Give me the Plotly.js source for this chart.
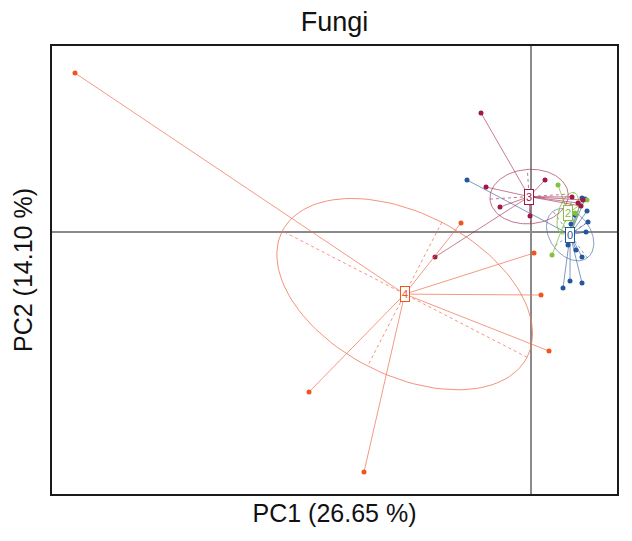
<!DOCTYPE html>
<html>
<head>
<meta charset="utf-8">
<script src="https://cdn.plot.ly/plotly-3.0.1.min.js"></script>
<style>html,body{margin:0;padding:0;background:#fff}</style>
</head>
<body>
<div id="chart" style="width:632px;height:541px"></div>
<script>
// Sample scores on the first two principal components, one pair of arrays per group
const groupLabels = ['0', '2', '3', '4'];

const pc1_g0 = [-0.64, 0.32, 0.39, 0.51, 0.37, 0.45, 0.51, 0.55, 0.57, 0.56, 0.51, 0.54, 0.40, 0.44];
const pc2_g0 = [0.52, -0.56, -0.49, -0.51, -0.13, -0.18, -0.25, 0.00, 0.10, 0.21, 0.34, 0.33, 0.08, 0.17];

const pc1_g2 = [0.27, 0.21, 0.56, 0.44];
const pc2_g2 = [0.47, -0.23, 0.32, 0.19];

const pc1_g3 = [-0.50, -0.45, -0.31, -0.01, 0.14, -0.96, 0.41, 0.47, 0.50, 0.52];
const pc2_g3 = [1.19, 0.45, 0.25, 0.16, 0.52, -0.25, 0.35, 0.29, 0.26, 0.32];

const pc1_g4 = [-4.56, -0.70, 0.03, 0.10, 0.18, -2.22, -1.67];
const pc2_g4 = [1.59, 0.09, -0.21, -0.63, -1.19, -1.60, -2.40];

const groupX = [pc1_g0, pc1_g2, pc1_g3, pc1_g4];
const groupY = [pc2_g0, pc2_g2, pc2_g3, pc2_g4];

// Styling
const pointColors = ['#2456a0', '#86c040', '#a01843', '#f0551f'];
const lineColors  = ['rgba(60,100,160,0.65)', 'rgba(134,192,64,0.8)', 'rgba(160,40,80,0.6)', 'rgba(240,110,80,0.7)'];
const ellColors   = ['rgba(90,120,170,0.7)', 'rgba(134,192,64,0.85)', 'rgba(170,60,95,0.7)', 'rgba(240,120,90,0.8)'];
const ellipseScale = 0.8;

function mean(a) { return a.reduce((s, v) => s + v, 0) / a.length; }

function ellipseOf(xs, ys, k) {
  const mx = mean(xs), my = mean(ys);
  let vx = 0, vy = 0, cxy = 0;
  for (let i = 0; i < xs.length; i++) {
    const dx = xs[i] - mx, dy = ys[i] - my;
    vx += dx * dx; vy += dy * dy; cxy += dx * dy;
  }
  vx /= xs.length; vy /= xs.length; cxy /= xs.length;
  const delta = Math.sqrt((vx - vy) * (vx - vy) + 4 * cxy * cxy);
  const l1 = Math.max((vx + vy + delta) / 2, 0);
  const l2 = Math.max(vx + vy - l1, 0);
  const a = k * Math.sqrt(l1), b = k * Math.sqrt(l2);
  const th = Math.abs(cxy) < 1e-12 ? (vx >= vy ? 0 : Math.PI / 2) : Math.atan2(l1 - vx, cxy);
  const c = Math.cos(th), s = Math.sin(th);
  const ex = [], ey = [];
  for (let i = 0; i <= 120; i++) {
    const t = 2 * Math.PI * i / 120;
    const u = a * Math.cos(t), v = b * Math.sin(t);
    ex.push(mx + u * c - v * s);
    ey.push(my + u * s + v * c);
  }
  const axX = [mx - a * c, mx + a * c, null, mx + b * s, mx - b * s];
  const axY = [my - a * s, my + a * s, null, my - b * c, my + b * c];
  return { mx, my, ex, ey, axX, axY };
}

const traces = [];
const annotations = [];

groupLabels.forEach((lab, g) => {
  const xs = groupX[g], ys = groupY[g];
  const e = ellipseOf(xs, ys, ellipseScale);

  // ellipse outline
  traces.push({ x: e.ex, y: e.ey, mode: 'lines', hoverinfo: 'skip',
    line: { color: ellColors[g], width: 1 } });
  // ellipse axes
  traces.push({ x: e.axX, y: e.axY, mode: 'lines', hoverinfo: 'skip',
    line: { color: ellColors[g], width: 1, dash: 'dot' } });

  // star: each sample joined to its group centroid
  const sx = [], sy = [];
  xs.forEach((v, i) => { sx.push(e.mx, v, null); sy.push(e.my, ys[i], null); });
  traces.push({ x: sx, y: sy, mode: 'lines', hoverinfo: 'skip',
    line: { color: lineColors[g], width: 1 } });

  // samples
  traces.push({ x: xs, y: ys, mode: 'markers', name: lab,
    marker: { color: pointColors[g], size: 5 } });

  // group label at the centroid
  annotations.push({ x: e.mx, y: e.my, xref: 'x', yref: 'y', text: lab, showarrow: false,
    font: { family: 'Liberation Sans, Arial, sans-serif', size: 11, color: pointColors[g] },
    bgcolor: '#ffffff', bordercolor: pointColors[g], borderwidth: 1, borderpad: 1 });
});

const layout = {
  width: 632, height: 541,
  margin: { l: 52, r: 15, t: 46, b: 47 },
  paper_bgcolor: '#ffffff', plot_bgcolor: '#ffffff',
  showlegend: false,
  font: { family: 'Liberation Sans, Arial, sans-serif', color: '#111' },
  title: { text: 'Fungi', x: 0.5, xref: 'paper', y: 1 - 22 / 541, yref: 'container', yanchor: 'middle',
    font: { size: 27, color: '#111' } },
  xaxis: {
    range: [-4.79, 0.86], showgrid: false, showticklabels: false, ticks: '',
    zeroline: true, zerolinecolor: '#8a8a8a', zerolinewidth: 2,
    showline: true, mirror: true, linecolor: '#1a1a1a', linewidth: 2,
    title: { text: 'PC1 (26.65 %)', standoff: 9, font: { size: 25, color: '#111' } }
  },
  yaxis: {
    range: [-2.62, 1.86], showgrid: false, showticklabels: false, ticks: '',
    zeroline: true, zerolinecolor: '#8a8a8a', zerolinewidth: 2,
    showline: true, mirror: true, linecolor: '#1a1a1a', linewidth: 2,
    title: { text: 'PC2 (14.10 %)', standoff: 10, font: { size: 25, color: '#111' } }
  },
  annotations: annotations
};

Plotly.newPlot('chart', traces, layout, { displayModeBar: false, staticPlot: true });
</script>
</body>
</html>
